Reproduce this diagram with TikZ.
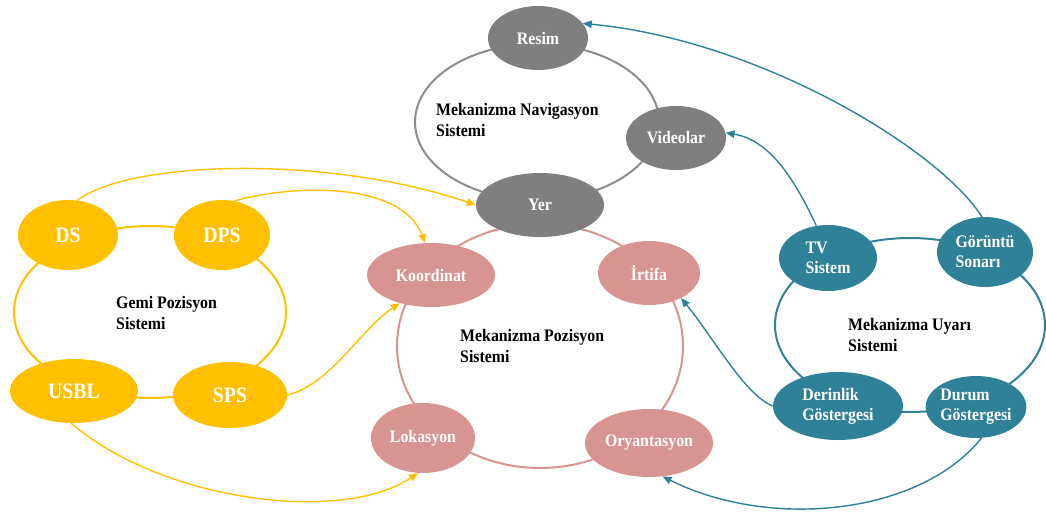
\documentclass[tikz,border=0pt]{standalone}
\usepackage{fontspec}
\setmainfont{Liberation Serif}
\newfontfamily\narrowserif[FakeStretch=0.9]{Liberation Serif}
\usetikzlibrary{shapes.geometric,arrows.meta}
\definecolor{cyel}{HTML}{FFC000}
\definecolor{cgray}{HTML}{7F7F7F}
\definecolor{cpink}{HTML}{D79490}
\definecolor{cteal}{HTML}{2F8198}
\begin{document}
\begin{tikzpicture}[x=1pt,y=-1pt,
  ell/.style={ellipse,inner sep=0pt,fill=#1,draw=none,text=white,
    font=\narrowserif\fontsize{17.6}{20}\selectfont\bfseries,align=left},
  big/.style={font=\narrowserif\fontsize{22}{24}\selectfont\bfseries},
  ring/.style={draw=#1,line width=2pt},
  lab/.style={anchor=west,align=left,text=black,
    font=\narrowserif\fontsize{17.6}{21}\selectfont\bfseries,inner sep=0pt},
  conn/.style={draw=#1,line width=1.4pt,-{Triangle[length=9pt,width=7.5pt]}}]
\useasboundingbox (0,0) rectangle (1046,513);
% rings
\draw[ring=cgray!90] (537,122) ellipse [x radius=122, y radius=78];
\draw[ring=cyel] (150,312) ellipse [x radius=136, y radius=86];
\draw[ring=cpink] (540,346) ellipse [x radius=143, y radius=122];
\draw[ring=cteal] (910,325) ellipse [x radius=135, y radius=87];
% gray nodes
\node[ell=cgray,minimum width=100pt,minimum height=64pt] (Res) at (538,38) {Resim};
\node[ell=cgray,minimum width=100pt,minimum height=64pt] (Vid) at (676,138) {Videolar};
\node[ell=cgray,minimum width=128pt,minimum height=64pt] (Yer) at (540,205) {Yer};
% yellow nodes
\node[ell=cyel,big,minimum width=100pt,minimum height=70pt] (DS) at (68,235) {DS};
\node[ell=cyel,big,minimum width=96pt,minimum height=70pt] (DPS) at (222,235) {DPS};
\node[ell=cyel,big,minimum width=128pt,minimum height=64pt] (USBL) at (74,391) {USBL};
\node[ell=cyel,big,minimum width=114pt,minimum height=66pt] (SPS) at (230,395) {SPS};
% pink nodes
\node[ell=cpink,minimum width=128pt,minimum height=64pt] (Koo) at (431,275) {Koordinat};
\node[ell=cpink,minimum width=102pt,minimum height=64pt] (Irt) at (649,273) {İrtifa};
\node[ell=cpink,minimum width=104pt,minimum height=70pt] (Lok) at (423,438) {Lokasyon};
\node[ell=cpink,minimum width=128pt,minimum height=68pt] (Ory) at (649,443) {Oryantasyon};
% teal nodes
\node[ell=cteal,minimum width=98pt,minimum height=66pt] (TV) at (828,258) {TV\\Sistem};
\node[ell=cteal,minimum width=96pt,minimum height=70pt] (GS) at (985,252) {Görüntü\\Sonarı};
\node[ell=cteal,minimum width=130pt,minimum height=68pt] (Der) at (838,406) {Derinlik\\Göstergesi};
\node[ell=cteal,minimum width=96pt,minimum height=62pt] (Dur) at (976,407) {Durum\\Göstergesi};
% labels
\node[lab] (LNav) at (436,120) {Mekanizma Navigasyon\\Sistemi};
\node[lab] (LGemi) at (116,313) {Gemi Pozisyon\\Sistemi};
\node[lab] (LPoz) at (460,346) {Mekanizma Pozisyon\\Sistemi};
\node[lab] (LUya) at (848,335) {Mekanizma Uyarı\\Sistemi};
% yellow arrows
\draw[conn=cyel] (DS.75) .. controls (130,160) and (330,155) .. (Yer.west);
\draw[conn=cyel] (DPS.70) .. controls (290,185) and (400,180) .. (Koo.100);
\draw[conn=cyel] (SPS.east) .. controls (330,385) and (360,330) .. (Koo.222);
\draw[conn=cyel] (USBL.265) .. controls (160,500) and (340,525) .. (Lok.262);
% teal arrows
\draw[conn=cteal] (GS.95) .. controls (940,150) and (760,40) .. (Res.18);
\draw[conn=cteal] (TV.110) .. controls (795,180) and (770,140) .. (Vid.6);
\draw[conn=cteal] (Der.west) .. controls (745,395) and (715,340) .. (Irt.-38);
\draw[conn=cteal] (Dur.-80) .. controls (920,515) and (770,530) .. (Ory.-68);
\end{tikzpicture}
\end{document}
